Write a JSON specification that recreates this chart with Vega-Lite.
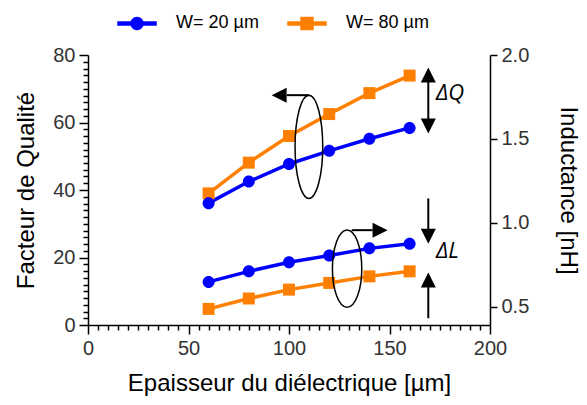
{
  "$schema": "https://vega.github.io/schema/vega-lite/v6.json",
  "width": 402,
  "height": 270,
  "autosize": "none",
  "padding": {"left": 88, "top": 55, "right": 97, "bottom": 80},
  "config": {
    "view": {"stroke": null},
    "axis": {
      "grid": false,
      "labelFlush": false,
      "labelOverlap": false,
      "domainColor": "black",
      "domainWidth": 1.5,
      "tickColor": "black",
      "tickWidth": 1.5,
      "labelFont": "Liberation Sans",
      "labelFontSize": 20,
      "labelColor": "#333333",
      "titleFont": "Liberation Sans",
      "titleFontSize": 24,
      "titleFontWeight": "normal",
      "titleColor": "black"
    }
  },
  "datasets": {
    "q": [
      {"x": 60, "W": "W= 80 µm", "Q": 39.0},
      {"x": 80, "W": "W= 80 µm", "Q": 48.1},
      {"x": 100, "W": "W= 80 µm", "Q": 56.0},
      {"x": 120, "W": "W= 80 µm", "Q": 62.5},
      {"x": 140, "W": "W= 80 µm", "Q": 68.7},
      {"x": 160, "W": "W= 80 µm", "Q": 73.9},
      {"x": 60, "W": "W= 20 µm", "Q": 36.1},
      {"x": 80, "W": "W= 20 µm", "Q": 42.5},
      {"x": 100, "W": "W= 20 µm", "Q": 47.7},
      {"x": 120, "W": "W= 20 µm", "Q": 51.6},
      {"x": 140, "W": "W= 20 µm", "Q": 55.2},
      {"x": 160, "W": "W= 20 µm", "Q": 58.4}
    ],
    "l": [
      {"x": 60, "W": "W= 80 µm", "L": 0.486},
      {"x": 80, "W": "W= 80 µm", "L": 0.548},
      {"x": 100, "W": "W= 80 µm", "L": 0.601},
      {"x": 120, "W": "W= 80 µm", "L": 0.641},
      {"x": 140, "W": "W= 80 µm", "L": 0.680},
      {"x": 160, "W": "W= 80 µm", "L": 0.710},
      {"x": 60, "W": "W= 20 µm", "L": 0.647},
      {"x": 80, "W": "W= 20 µm", "L": 0.710},
      {"x": 100, "W": "W= 20 µm", "L": 0.764},
      {"x": 120, "W": "W= 20 µm", "L": 0.804},
      {"x": 140, "W": "W= 20 µm", "L": 0.847},
      {"x": 160, "W": "W= 20 µm", "L": 0.875}
    ],
    "rules": [
      {"x": 98.9, "y": 68.1, "x2": 109.9, "y2": 68.1},
      {"x": 131.2, "y": 28.1, "x2": 141.6, "y2": 28.1},
      {"x": 169.3, "y": 74.1, "x2": 169.3, "y2": 59.0},
      {"x": 169.3, "y": 37.5, "x2": 169.3, "y2": 26.3},
      {"x": 169.3, "y": 13.3, "x2": 169.3, "y2": 2.0}
    ],
    "heads": [
      {"x": 95.1, "y": 68.1, "dir": "left"},
      {"x": 145.3, "y": 28.1, "dir": "right"},
      {"x": 169.3, "y": 74.1, "dir": "up"},
      {"x": 169.3, "y": 59.0, "dir": "down"},
      {"x": 169.3, "y": 26.3, "dir": "down"},
      {"x": 169.3, "y": 13.3, "dir": "up"}
    ],
    "ellipses": [
      {"x": 109.9, "y": 52.8, "which": "Q"},
      {"x": 128.9, "y": 16.7, "which": "L"}
    ],
    "labels": [
      {"x": 173.1, "y": 68.7, "text": "ΔQ"},
      {"x": 173.1, "y": 21.8, "text": "ΔL"}
    ]
  },
  "layer": [
    {
      "data": {"name": "q"},
      "layer": [
        {
          "mark": {"type": "line", "strokeWidth": 3.5},
          "encoding": {
            "x": {"field": "x", "type": "quantitative", "scale": {"domain": [0, 200], "nice": false},
              "axis": {"values": [0,5,10,15,20,25,30,35,40,45,50,55,60,65,70,75,80,85,90,95,100,105,110,115,120,125,130,135,140,145,150,155,160,165,170,175,180,185,190,195,200],
                "tickCount": 100,
                "labelExpr": "datum.value % 50 === 0 ? datum.label : ''",
                "tickSize": {"expr": "datum.value % 50 === 0 ? 9 : 5"},
                "labelPadding": 4, "title": "Epaisseur du diélectrique [µm]", "titlePadding": 13}},
            "y": {"field": "Q", "type": "quantitative", "scale": {"domain": [0, 80], "nice": false},
              "axis": {"values": [0,2,4,6,8,10,12,14,16,18,20,22,24,26,28,30,32,34,36,38,40,42,44,46,48,50,52,54,56,58,60,62,64,66,68,70,72,74,76,78,80],
                "tickCount": 100,
                "labelExpr": "datum.value % 20 === 0 ? datum.label : ''",
                "tickSize": {"expr": "datum.value % 20 === 0 ? 9 : 5"},
                "labelPadding": 4, "title": "Facteur de Qualité", "titlePadding": 14}},
            "color": {"field": "W", "type": "nominal", "scale": {"domain": ["W= 20 µm", "W= 80 µm"], "range": ["#0000FF", "#FF8000"]}}
          }
        },
        {
          "transform": [{"filter": "datum.W === 'W= 80 µm'"}],
          "mark": {"type": "point", "filled": true, "size": 144, "opacity": 1, "shape": "square"},
          "encoding": {
            "x": {"field": "x", "type": "quantitative"},
            "y": {"field": "Q", "type": "quantitative"},
            "color": {"field": "W", "type": "nominal",
              "legend": {
                "orient": "none", "legendX": 29, "legendY": -52, "direction": "horizontal", "title": null,
                "symbolSize": 1444, "labelFontSize": 18, "labelFont": "Liberation Sans",
                "labelColor": "black", "labelOffset": 19, "columnPadding": 26, "padding": 0,
                "symbolType": {"expr": "datum.value === 'W= 20 µm' ? 'M-1,-0.08L1,-0.08L1,0.08L-1,0.08Z M-0.316,0C-0.316,-0.174 -0.174,-0.316 0,-0.316C0.174,-0.316 0.316,-0.174 0.316,0C0.316,0.174 0.174,0.316 0,0.316C-0.174,0.316 -0.316,0.174 -0.316,0Z' : 'M-1,-0.08L1,-0.08L1,0.08L-1,0.08Z M-0.316,-0.316L0.316,-0.316L0.316,0.316L-0.316,0.316Z'"},
                "encode": {"symbols": {"update": {
                  "shape": {"condition": {"test": "datum.value === 'W= 20 µm'", "value": "M-1,-0.08L1,-0.08L1,0.08L-1,0.08Z M-0.316,0C-0.316,-0.174 -0.174,-0.316 0,-0.316C0.174,-0.316 0.316,-0.174 0.316,0C0.316,0.174 0.174,0.316 0,0.316C-0.174,0.316 -0.316,0.174 -0.316,0Z"}, "value": "M-1,-0.08L1,-0.08L1,0.08L-1,0.08Z M-0.316,-0.316L0.316,-0.316L0.316,0.316L-0.316,0.316Z"},
                  "fill": {"condition": {"test": "datum.value === 'W= 20 µm'", "value": "#0000FF"}, "value": "#FF8000"},
                  "stroke": {"value": "transparent"},
                  "strokeWidth": {"value": 0},
                  "opacity": {"value": 1}
                }}}
              }}
          }
        },
        {
          "transform": [{"filter": "datum.W === 'W= 20 µm'"}],
          "mark": {"type": "point", "filled": true, "size": 144, "opacity": 1, "shape": "M-1,0C-1,-0.552 -0.552,-1 0,-1C0.552,-1 1,-0.552 1,0C1,0.552 0.552,1 0,1C-0.552,1 -1,0.552 -1,0Z"},
          "encoding": {
            "x": {"field": "x", "type": "quantitative"},
            "y": {"field": "Q", "type": "quantitative"},
            "color": {"field": "W", "type": "nominal"}
          }
        }
      ]
    },
    {
      "data": {"name": "l"},
      "layer": [
        {
          "mark": {"type": "line", "strokeWidth": 3.5},
          "encoding": {
            "x": {"field": "x", "type": "quantitative"},
            "y": {"field": "L", "type": "quantitative", "scale": {"domain": [0.39, 2.0], "nice": false, "zero": false},
              "axis": {"orient": "right", "values": [0.5, 1.0, 1.5, 2.0], "format": ".1f", "tickSize": 7, "labelPadding": 4, "title": "Inductance [nH]", "titlePadding": 27}},
            "color": {"field": "W", "type": "nominal"}
          }
        },
        {
          "transform": [{"filter": "datum.W === 'W= 80 µm'"}],
          "mark": {"type": "point", "filled": true, "size": 144, "opacity": 1, "shape": "square"},
          "encoding": {
            "x": {"field": "x", "type": "quantitative"},
            "y": {"field": "L", "type": "quantitative"},
            "color": {"field": "W", "type": "nominal"}
          }
        },
        {
          "transform": [{"filter": "datum.W === 'W= 20 µm'"}],
          "mark": {"type": "point", "filled": true, "size": 144, "opacity": 1, "shape": "M-1,0C-1,-0.552 -0.552,-1 0,-1C0.552,-1 1,-0.552 1,0C1,0.552 0.552,1 0,1C-0.552,1 -1,0.552 -1,0Z"},
          "encoding": {
            "x": {"field": "x", "type": "quantitative"},
            "y": {"field": "L", "type": "quantitative"},
            "color": {"field": "W", "type": "nominal"}
          }
        }
      ]
    },
    {
      "layer": [
        {
          "data": {"name": "rules"},
          "mark": {"type": "rule", "color": "black", "strokeWidth": 2},
          "encoding": {
            "x": {"field": "x", "type": "quantitative"},
            "y": {"field": "y", "type": "quantitative", "scale": {"domain": [0, 80], "nice": false}, "axis": null},
            "x2": {"field": "x2"},
            "y2": {"field": "y2"}
          }
        },
        {
          "data": {"name": "heads"},
          "transform": [{"filter": "datum.dir === 'left'"}],
          "mark": {"type": "point", "shape": "M-1,0L1,-1L1,1Z", "size": 225, "filled": true, "color": "black", "opacity": 1},
          "encoding": {"x": {"field": "x", "type": "quantitative"}, "y": {"field": "y", "type": "quantitative", "axis": null}}
        },
        {
          "data": {"name": "heads"},
          "transform": [{"filter": "datum.dir === 'right'"}],
          "mark": {"type": "point", "shape": "M1,0L-1,-1L-1,1Z", "size": 225, "filled": true, "color": "black", "opacity": 1},
          "encoding": {"x": {"field": "x", "type": "quantitative"}, "y": {"field": "y", "type": "quantitative", "axis": null}}
        },
        {
          "data": {"name": "heads"},
          "transform": [{"filter": "datum.dir === 'up'"}],
          "mark": {"type": "point", "shape": "M0,-1L1,1L-1,1Z", "size": 225, "filled": true, "color": "black", "opacity": 1},
          "encoding": {"x": {"field": "x", "type": "quantitative"}, "y": {"field": "y", "type": "quantitative", "axis": null}}
        },
        {
          "data": {"name": "heads"},
          "transform": [{"filter": "datum.dir === 'down'"}],
          "mark": {"type": "point", "shape": "M0,1L1,-1L-1,-1Z", "size": 225, "filled": true, "color": "black", "opacity": 1},
          "encoding": {"x": {"field": "x", "type": "quantitative"}, "y": {"field": "y", "type": "quantitative", "axis": null}}
        },
        {
          "data": {"name": "ellipses"},
          "transform": [{"filter": "datum.which === 'Q'"}],
          "mark": {"type": "point", "shape": "M0,-1C0.148,-1 0.268,-0.552 0.268,0C0.268,0.552 0.148,1 0,1C-0.148,1 -0.268,0.552 -0.268,0C-0.268,-0.552 -0.148,-1 0,-1Z", "size": 10670, "filled": false, "stroke": "black", "strokeWidth": 1.5, "opacity": 1},
          "encoding": {"x": {"field": "x", "type": "quantitative"}, "y": {"field": "y", "type": "quantitative", "axis": null}}
        },
        {
          "data": {"name": "ellipses"},
          "transform": [{"filter": "datum.which === 'L'"}],
          "mark": {"type": "point", "shape": "M0,-1C0.21,-1 0.38,-0.552 0.38,0C0.38,0.552 0.21,1 0,1C-0.21,1 -0.38,0.552 -0.38,0C-0.38,-0.552 -0.21,-1 0,-1Z", "size": 5975, "filled": false, "stroke": "black", "strokeWidth": 1.5, "opacity": 1},
          "encoding": {"x": {"field": "x", "type": "quantitative"}, "y": {"field": "y", "type": "quantitative", "axis": null}}
        },
        {
          "data": {"name": "labels"},
          "mark": {"type": "text", "align": "left", "baseline": "middle", "font": "Open Sans", "fontStyle": "italic", "fontSize": 22, "color": "black"},
          "encoding": {"x": {"field": "x", "type": "quantitative"}, "y": {"field": "y", "type": "quantitative", "axis": null}, "text": {"field": "text"}}
        }
      ]
    }
  ],
  "resolve": {"scale": {"y": "independent"}}
}
